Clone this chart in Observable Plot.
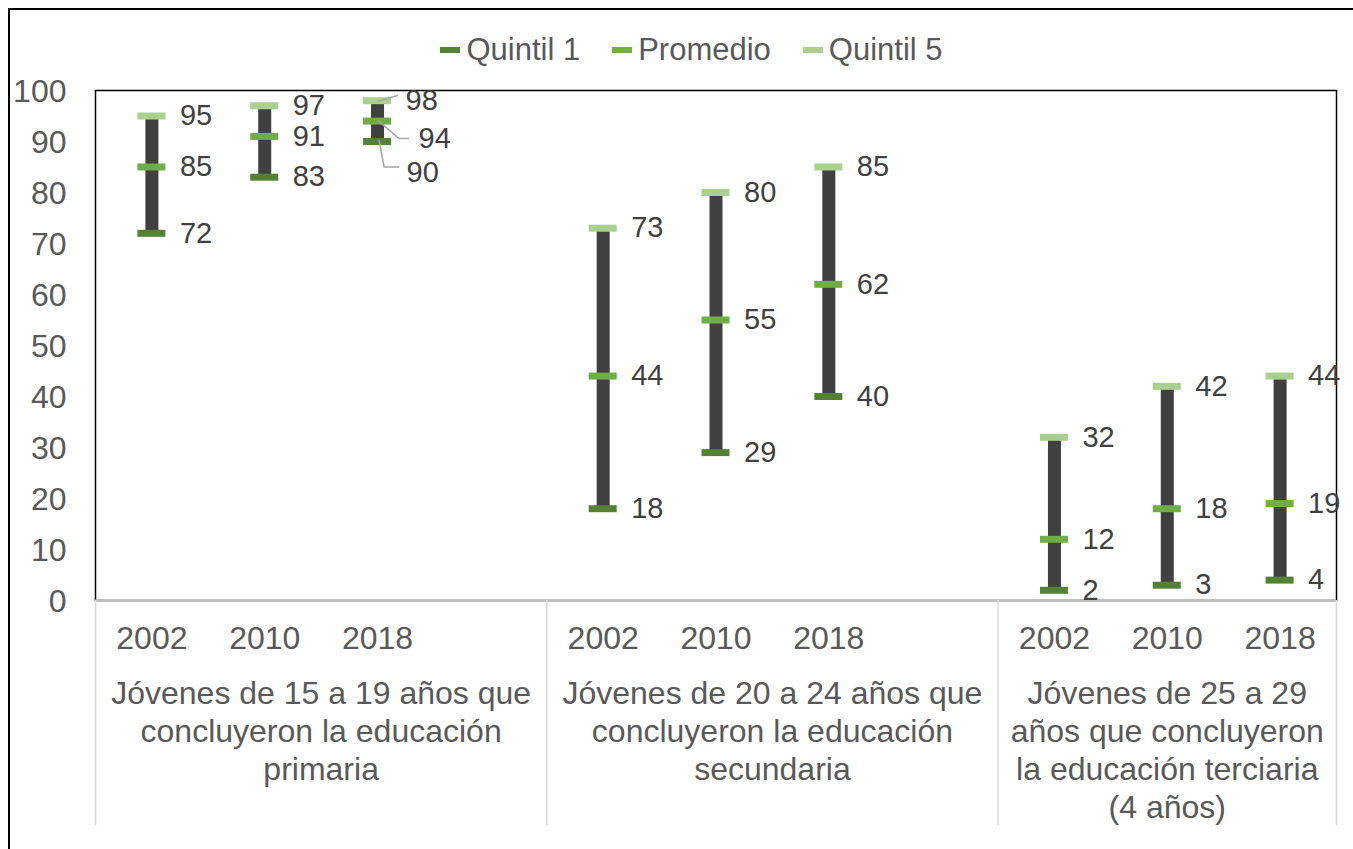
<!DOCTYPE html>
<html>
<head>
<meta charset="utf-8">
<script src="https://cdn.jsdelivr.net/npm/d3@7"></script>
<script src="https://cdn.jsdelivr.net/npm/@observablehq/plot@0.6"></script>
<style>
  html, body { margin: 0; padding: 0; background: #fff; overflow: hidden; width: 1353px; height: 849px; }
  #wrap { position: relative; width: 1353px; height: 849px; font-family: "Liberation Sans", Arial, sans-serif; }
  #border { position: absolute; left: 8px; top: 8px; width: 1400px; height: 900px; border: 2px solid #000; box-sizing: border-box; pointer-events: none; }
  #legend { position: absolute; top: 32px; left: 15px; width: 1353px; display: flex; justify-content: center; align-items: center; font-size: 31px; color: #595959; line-height: 36px; }
  .item { display: flex; align-items: center; margin: 0 16px; }
  .swatch { width: 20px; height: 6px; margin-right: 6px; }
  #chart { position: absolute; left: 0; top: 0; }
</style>
</head>
<body>
<div id="wrap">
  <div id="chart"></div>
  <div id="legend"></div>
  <div id="border"></div>
</div>
<script>
// ---- Data ----
const groupLabels = [
  "Jóvenes de 15 a 19 años que\nconcluyeron la educación\nprimaria",
  "Jóvenes de 20 a 24 años que\nconcluyeron la educación\nsecundaria",
  "Jóvenes de 25 a 29\naños que concluyeron\nla educación terciaria\n(4 años)"
];
const years = ["2002", "2010", "2018"];
const quintil1 = [[72, 83, 90], [18, 29, 40], [2, 3, 4]];
const promedio = [[85, 91, 94], [44, 55, 62], [12, 18, 19]];
const quintil5 = [[95, 97, 98], [73, 80, 85], [32, 42, 44]];
const yTicks = [0, 10, 20, 30, 40, 50, 60, 70, 80, 90, 100];
const seriesNames = ["Quintil 1", "Promedio", "Quintil 5"];
const seriesColors = ["#548235", "#70AD47", "#A9D08E"];

// ---- Build table ----
const slotsPerGroup = 4;
const nSlots = groupLabels.length * slotsPerGroup - 1;
const rows = [];
groupLabels.forEach((g, gi) => {
  years.forEach((y, yi) => {
    rows.push({
      group: gi, yi, year: y,
      pos: gi * slotsPerGroup + yi,
      q1: quintil1[gi][yi], prom: promedio[gi][yi], q5: quintil5[gi][yi]
    });
  });
});
const groupRows = groupLabels.map((label, gi) => {
  const start = gi * slotsPerGroup - 0.5;
  const end = Math.min(gi * slotsPerGroup + slotsPerGroup - 0.5, nSlots - 0.5);
  return {label, start, end, center: (start + end) / 2};
});
const separators = [groupRows[0].start, ...groupRows.map(d => d.end)];

const keys = ["q1", "prom", "q5"];
// label placement tweaks (pixel styling) for the crowded group
const nudge = {"0-2-prom": {dx: 41, dy: 18}, "0-2-q1": {dx: 29, dy: 31}};
const labelRows = [];
rows.forEach(r => keys.forEach(k => labelRows.push({pos: r.pos, value: r[k], key: `${r.group}-${r.yi}-${k}`})));
const plainLabels = labelRows.filter(d => !nudge[d.key]);
const nudgedLabels = labelRows.filter(d => nudge[d.key]);

// leader lines (pixel offsets from marker centre) for the crowded group
const leaderDefs = [
  {key: "0-2-q5", pts: [[1, 1], [21, -5]]},
  {key: "0-2-prom", pts: [[1, 0], [22, 18], [32, 18]]},
  {key: "0-2-q1", pts: [[2, -1], [7, 26], [22, 26]]}
];
function leaders(index, scales) {
  const g = d3.create("svg:g").attr("fill", "none").attr("stroke", "#a6a6a6").attr("stroke-width", 1.5);
  for (const L of leaderDefs) {
    const d = labelRows.find(r => r.key === L.key);
    const x0 = scales.x(d.pos), y0 = scales.y(d.value);
    g.append("path").attr("d", "M" + L.pts.map(([dx, dy]) => `${x0 + dx},${y0 + dy}`).join("L"));
  }
  return g.node();
}

const font = "Liberation Sans, Arial, sans-serif";
const plotH = 849 - 90 - 249;

const chart = Plot.plot({
  width: 1353,
  height: 849,
  marginLeft: 95,
  marginRight: 17,
  marginTop: 90,
  marginBottom: 249,
  style: {fontFamily: font, background: "transparent"},
  x: {type: "linear", domain: [-0.5, nSlots - 0.5], axis: null},
  y: {domain: [0, 100], axis: null},
  marks: [
    Plot.frame({stroke: "#000", strokeWidth: 1.5}),
    Plot.ruleY([0], {stroke: "#bfbfbf", strokeWidth: 2}),
    Plot.ruleX(separators, {stroke: "#d9d9d9", strokeWidth: 1.5, insetTop: plotH, insetBottom: -225}),
    Plot.axisY(yTicks, {tickSize: 0, tickPadding: 29, fontSize: 32, color: "#595959", dy: 1}),
    Plot.text(rows, {x: "pos", text: "year", frameAnchor: "bottom", lineAnchor: "bottom", dy: 48, fontSize: 32, fill: "#595959"}),
    Plot.text(groupRows, {x: "center", text: "label", frameAnchor: "bottom", lineAnchor: "top", dy: 77, lineHeight: 1.18, fontSize: 32, fill: "#595959"}),
    Plot.ruleX(rows, {x: "pos", y1: "q1", y2: "q5", stroke: "#404040", strokeWidth: 13}),
    Plot.ruleY(rows, {x1: "pos", x2: "pos", y: "q5", stroke: seriesColors[2], strokeWidth: 7, insetLeft: -14, insetRight: -14}),
    Plot.ruleY(rows, {x1: "pos", x2: "pos", y: "prom", stroke: seriesColors[1], strokeWidth: 7, insetLeft: -14, insetRight: -14}),
    Plot.ruleY(rows, {x1: "pos", x2: "pos", y: "q1", stroke: seriesColors[0], strokeWidth: 7, insetLeft: -14, insetRight: -14}),
    leaders,
    Plot.text(plainLabels, {x: "pos", y: "value", text: d => String(d.value), dx: 28, textAnchor: "start", fontSize: 29, fill: "#404040"}),
    ...nudgedLabels.map(d => Plot.text([d], {x: "pos", y: "value", text: r => String(r.value), dx: nudge[d.key].dx, dy: nudge[d.key].dy, textAnchor: "start", fontSize: 29, fill: "#404040"}))
  ]
});
document.getElementById("chart").appendChild(chart);

// ---- Legend ----
const legend = document.getElementById("legend");
seriesNames.forEach((name, i) => {
  const item = document.createElement("div");
  item.className = "item";
  const sw = document.createElement("span");
  sw.className = "swatch";
  sw.style.background = seriesColors[i];
  const t = document.createElement("span");
  t.textContent = name;
  item.appendChild(sw);
  item.appendChild(t);
  legend.appendChild(item);
});
</script>
</body>
</html>
